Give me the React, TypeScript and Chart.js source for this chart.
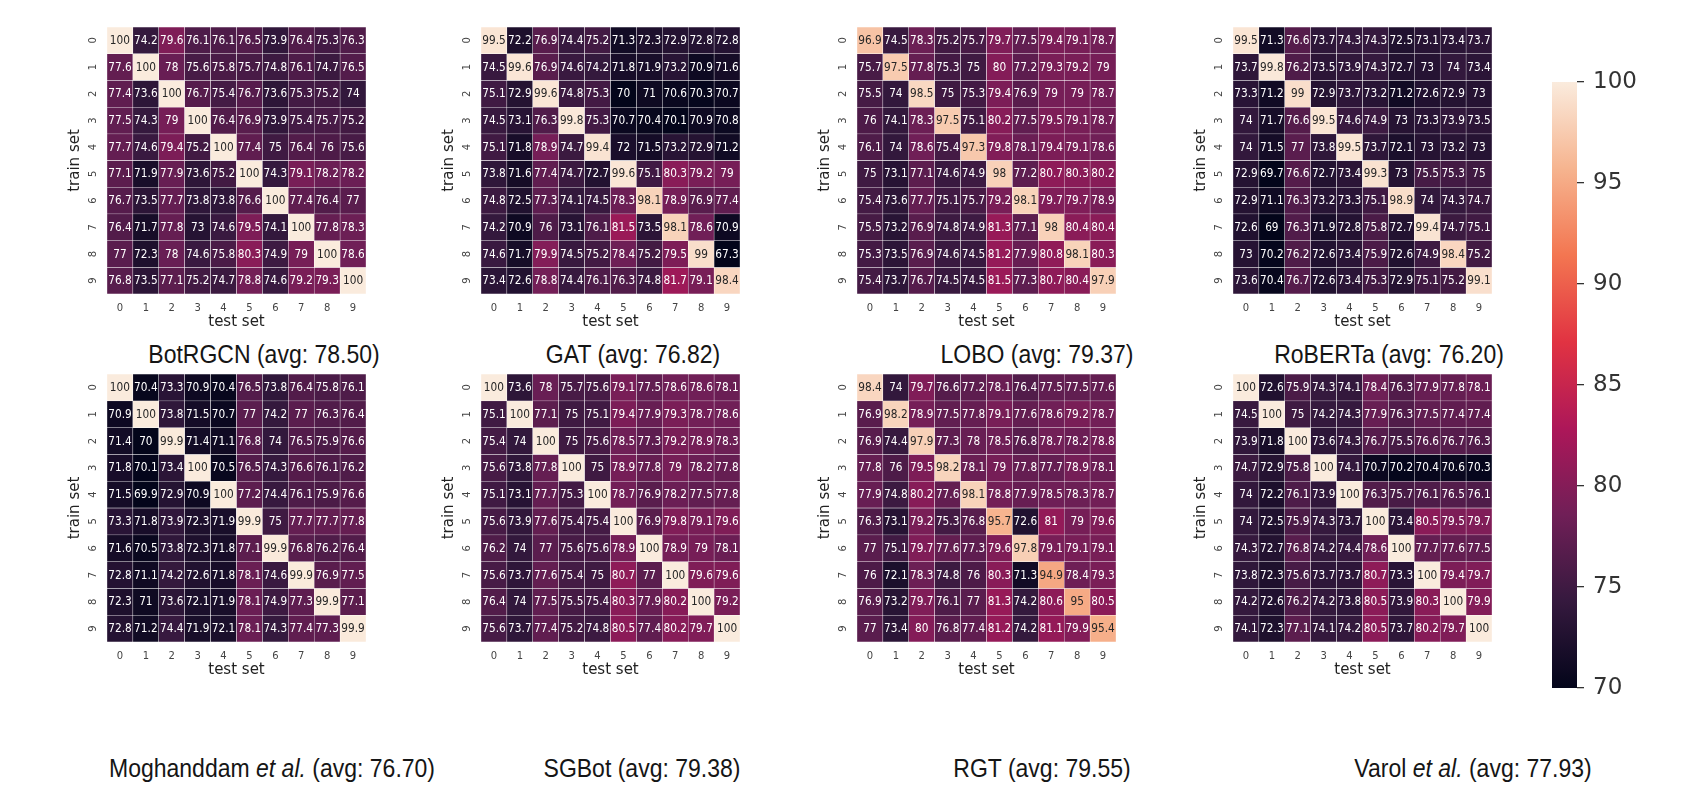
import React, { useEffect, useRef } from 'react';
import { Chart, registerables } from 'chart.js';

Chart.register(...registerables);
Chart.defaults.font.family = '"DejaVu Sans", sans-serif';

// ---------------- data ----------------
const testSetLabels = ['0', '1', '2', '3', '4', '5', '6', '7', '8', '9'];
const trainSetLabels = ['0', '1', '2', '3', '4', '5', '6', '7', '8', '9'];
const colorbarTicks = [70, 75, 80, 85, 90, 95, 100];

const modelNames = ['BotRGCN', 'GAT', 'LOBO', 'RoBERTa', 'Moghanddam', 'SGBot', 'RGT', 'Varol'];
const modelItalic = ['', '', '', '', 'et al.', '', '', 'et al.'];
const modelAvgs = ['78.50', '76.82', '79.37', '76.20', '76.70', '79.38', '79.55', '77.93'];

const botrgcnAcc = [
  [100, 74.2, 79.6, 76.1, 76.1, 76.5, 73.9, 76.4, 75.3, 76.3],
  [77.6, 100, 78, 75.6, 75.8, 75.7, 74.8, 76.1, 74.7, 76.5],
  [77.4, 73.6, 100, 76.7, 75.4, 76.7, 73.6, 75.3, 75.2, 74],
  [77.5, 74.3, 79, 100, 76.4, 76.9, 73.9, 75.4, 75.7, 75.2],
  [77.7, 74.6, 79.4, 75.2, 100, 77.4, 75, 76.4, 76, 75.6],
  [77.1, 71.9, 77.9, 73.6, 75.2, 100, 74.3, 79.1, 78.2, 78.2],
  [76.7, 73.5, 77.7, 73.8, 73.8, 76.6, 100, 77.4, 76.4, 77],
  [76.4, 71.7, 77.8, 73, 74.6, 79.5, 74.1, 100, 77.8, 78.3],
  [77, 72.3, 78, 74.6, 75.8, 80.3, 74.9, 79, 100, 78.6],
  [76.8, 73.5, 77.1, 75.2, 74.7, 78.8, 74.6, 79.2, 79.3, 100],
];

const gatAcc = [
  [99.5, 72.2, 76.9, 74.4, 75.2, 71.3, 72.3, 72.9, 72.8, 72.8],
  [74.5, 99.6, 76.9, 74.6, 74.2, 71.8, 71.9, 73.2, 70.9, 71.6],
  [75.1, 72.9, 99.6, 74.8, 75.3, 70, 71, 70.6, 70.3, 70.7],
  [74.5, 73.1, 76.3, 99.8, 75.3, 70.7, 70.4, 70.1, 70.9, 70.8],
  [75.1, 71.8, 78.9, 74.7, 99.4, 72, 71.5, 73.2, 72.9, 71.2],
  [73.8, 71.6, 77.4, 74.7, 72.7, 99.6, 75.1, 80.3, 79.2, 79],
  [74.8, 72.5, 77.3, 74.1, 74.5, 78.3, 98.1, 78.9, 76.9, 77.4],
  [74.2, 70.9, 76, 73.1, 76.1, 81.5, 73.5, 98.1, 78.6, 70.9],
  [74.6, 71.7, 79.9, 74.5, 75.2, 78.4, 75.2, 79.5, 99, 67.3],
  [73.4, 72.6, 78.8, 74.4, 76.1, 76.3, 74.8, 81.7, 79.1, 98.4],
];

const loboAcc = [
  [96.9, 74.5, 78.3, 75.2, 75.7, 79.7, 77.5, 79.4, 79.1, 78.7],
  [75.7, 97.5, 77.8, 75.3, 75, 80, 77.2, 79.3, 79.2, 79],
  [75.5, 74, 98.5, 75, 75.3, 79.4, 76.9, 79, 79, 78.7],
  [76, 74.1, 78.3, 97.5, 75.1, 80.2, 77.5, 79.5, 79.1, 78.7],
  [76.1, 74, 78.6, 75.4, 97.3, 79.8, 78.1, 79.4, 79.1, 78.6],
  [75, 73.1, 77.1, 74.6, 74.9, 98, 77.2, 80.7, 80.3, 80.2],
  [75.4, 73.6, 77.7, 75.1, 75.7, 79.2, 98.1, 79.7, 79.7, 78.9],
  [75.5, 73.2, 76.9, 74.8, 74.9, 81.3, 77.1, 98, 80.4, 80.4],
  [75.3, 73.5, 76.9, 74.6, 74.5, 81.2, 77.9, 80.8, 98.1, 80.3],
  [75.4, 73.7, 76.7, 74.5, 74.5, 81.5, 77.3, 80.7, 80.4, 97.9],
];

const robertaAcc = [
  [99.5, 71.3, 76.6, 73.7, 74.3, 74.3, 72.5, 73.1, 73.4, 73.7],
  [73.7, 99.8, 76.2, 73.5, 73.9, 74.3, 72.7, 73, 74, 73.4],
  [73.3, 71.2, 99, 72.9, 73.7, 73.2, 71.2, 72.6, 72.9, 73],
  [74, 71.7, 76.6, 99.5, 74.6, 74.9, 73, 73.3, 73.9, 73.5],
  [74, 71.5, 77, 73.8, 99.5, 73.7, 72.1, 73, 73.2, 73],
  [72.9, 69.7, 76.6, 72.7, 73.4, 99.3, 73, 75.5, 75.3, 75],
  [72.9, 71.1, 76.3, 73.2, 73.3, 75.1, 98.9, 74, 74.3, 74.7],
  [72.6, 69, 76.3, 71.9, 72.8, 75.8, 72.7, 99.4, 74.7, 75.1],
  [73, 70.2, 76.2, 72.6, 73.4, 75.9, 72.6, 74.9, 98.4, 75.2],
  [73.6, 70.4, 76.7, 72.6, 73.4, 75.3, 72.9, 75.1, 75.2, 99.1],
];

const moghanddamAcc = [
  [100, 70.4, 73.3, 70.9, 70.4, 76.5, 73.8, 76.4, 75.8, 76.1],
  [70.9, 100, 73.8, 71.5, 70.7, 77, 74.2, 77, 76.3, 76.4],
  [71.4, 70, 99.9, 71.4, 71.1, 76.8, 74, 76.5, 75.9, 76.6],
  [71.8, 70.1, 73.4, 100, 70.5, 76.5, 74.3, 76.6, 76.1, 76.2],
  [71.5, 69.9, 72.9, 70.9, 100, 77.2, 74.4, 76.1, 75.9, 76.6],
  [73.3, 71.8, 73.9, 72.3, 71.9, 99.9, 75, 77.7, 77.7, 77.8],
  [71.6, 70.5, 73.8, 72.3, 71.8, 77.1, 99.9, 76.8, 76.2, 76.4],
  [72.8, 71.1, 74.2, 72.6, 71.8, 78.1, 74.6, 99.9, 76.9, 77.5],
  [72.3, 71, 73.6, 72.1, 71.9, 78.1, 74.9, 77.3, 99.9, 77.1],
  [72.8, 71.2, 74.4, 71.9, 72.1, 78.1, 74.3, 77.4, 77.3, 99.9],
];

const sgbotAcc = [
  [100, 73.6, 78, 75.7, 75.6, 79.1, 77.5, 78.6, 78.6, 78.1],
  [75.1, 100, 77.1, 75, 75.1, 79.4, 77.9, 79.3, 78.7, 78.6],
  [75.4, 74, 100, 75, 75.6, 78.5, 77.3, 79.2, 78.9, 78.3],
  [75.6, 73.8, 77.8, 100, 75, 78.9, 77.8, 79, 78.2, 77.8],
  [75.1, 73.1, 77.7, 75.3, 100, 78.7, 76.9, 78.2, 77.5, 77.8],
  [75.6, 73.9, 77.6, 75.4, 75.4, 100, 76.9, 79.8, 79.1, 79.6],
  [76.2, 74, 77, 75.6, 75.6, 78.9, 100, 78.9, 79, 78.1],
  [75.6, 73.7, 77.6, 75.4, 75, 80.7, 77, 100, 79.6, 79.6],
  [76.4, 74, 77.5, 75.5, 75.4, 80.3, 77.9, 80.2, 100, 79.2],
  [75.6, 73.7, 77.4, 75.2, 74.8, 80.5, 77.4, 80.2, 79.7, 100],
];

const rgtAcc = [
  [98.4, 74, 79.7, 76.6, 77.2, 78.1, 76.4, 77.5, 77.5, 77.6],
  [76.9, 98.2, 78.9, 77.5, 77.8, 79.1, 77.6, 78.6, 79.2, 78.7],
  [76.9, 74.4, 97.9, 77.3, 78, 78.5, 76.8, 78.7, 78.2, 78.8],
  [77.8, 76, 79.5, 98.2, 78.1, 79, 77.8, 77.7, 78.9, 78.1],
  [77.9, 74.8, 80.2, 77.6, 98.1, 78.8, 77.9, 78.5, 78.3, 78.7],
  [76.3, 73.1, 79.2, 75.3, 76.8, 95.7, 72.6, 81, 79, 79.6],
  [77, 75.1, 79.7, 77.6, 77.3, 79.6, 97.8, 79.1, 79.1, 79.1],
  [76, 72.1, 78.3, 74.8, 76, 80.3, 71.3, 94.9, 78.4, 79.3],
  [76.9, 73.2, 79.7, 76.1, 77, 81.3, 74.2, 80.6, 95, 80.5],
  [77, 73.4, 80, 76.8, 77.4, 81.2, 74.2, 81.1, 79.9, 95.4],
];

const varolAcc = [
  [100, 72.6, 75.9, 74.3, 74.1, 78.4, 76.3, 77.9, 77.8, 78.1],
  [74.5, 100, 75, 74.2, 74.3, 77.9, 76.3, 77.5, 77.4, 77.4],
  [73.9, 71.8, 100, 73.6, 74.3, 76.7, 75.5, 76.6, 76.7, 76.3],
  [74.7, 72.9, 75.8, 100, 74.1, 70.7, 70.2, 70.4, 70.6, 70.3],
  [74, 72.2, 76.1, 73.9, 100, 76.3, 75.7, 76.1, 76.5, 76.1],
  [74, 72.5, 75.9, 74.3, 73.7, 100, 73.4, 80.5, 79.5, 79.7],
  [74.3, 72.7, 76.8, 74.2, 74.4, 78.6, 100, 77.7, 77.6, 77.5],
  [73.8, 72.3, 75.6, 73.7, 73.7, 80.7, 73.3, 100, 79.4, 79.7],
  [74.2, 72.6, 76.2, 74.2, 73.8, 80.5, 73.9, 80.3, 100, 79.9],
  [74.1, 72.3, 77.1, 74.1, 74.2, 80.5, 73.7, 80.2, 79.7, 100],
];

const allMatrices = [botrgcnAcc, gatAcc, loboAcc, robertaAcc, moghanddamAcc, sgbotAcc, rgtAcc, varolAcc];

// ---------------- layout / style ----------------
const HEAT_LEFTS = [107, 481, 857, 1233];
const HEAT_TOPS = [27, 374];
const HEAT_W = 259;
const HEAT_HS = [267, 268];
const TITLE_X = [264, 633, 1037, 1389, 272, 642, 1042, 1473];
const TITLE_Y = [354, 768];

const Y_AXIS_W = 52;
const X_AXIS_H = 42;
const PAD_T = 3;
const PAD_R = 4;

const VMIN = 70;
const VMAX = 100;
const ROCKET: [number, number[]][] = [
  [0, [3, 5, 26]],
  [1 / 7, [53, 25, 62]],
  [2 / 7, [112, 31, 87]],
  [3 / 7, [173, 23, 89]],
  [4 / 7, [225, 51, 66]],
  [5 / 7, [243, 118, 81]],
  [6 / 7, [246, 180, 143]],
  [1, [250, 235, 221]],
];

function rocketRGB(v: number): number[] {
  const t = Math.min(1, Math.max(0, (v - VMIN) / (VMAX - VMIN)));
  for (let i = 0; i < ROCKET.length - 1; i++) {
    const [t0, c0] = ROCKET[i];
    const [t1, c1] = ROCKET[i + 1];
    if (t <= t1) {
      const f = (t - t0) / (t1 - t0);
      return [0, 1, 2].map((k) => Math.round(c0[k] + (c1[k] - c0[k]) * f));
    }
  }
  return ROCKET[ROCKET.length - 1][1];
}
const rgbStr = (c: number[]) => `rgb(${c[0]},${c[1]},${c[2]})`;
function annotColor(v: number): string {
  const lin = (x: number) => {
    const c = x / 255;
    return c <= 0.03928 ? c / 12.92 : Math.pow((c + 0.055) / 1.055, 2.4);
  };
  const [r, g, b] = rocketRGB(v);
  const lum = 0.2126 * lin(r) + 0.7152 * lin(g) + 0.0722 * lin(b);
  return lum > 0.408 ? '#262626' : '#ffffff';
}

const zeroPad = (s: any) => {
  s.paddingTop = 0;
  s.paddingBottom = 0;
  s.paddingLeft = 0;
  s.paddingRight = 0;
};

function Heatmap({ matrix, left, top, height }: { matrix: number[][]; left: number; top: number; height: number }) {
  const ref = useRef<HTMLCanvasElement>(null);
  const cw = Y_AXIS_W + HEAT_W + PAD_R;
  const ch = PAD_T + height + X_AXIS_H;
  useEffect(() => {
    const annotPlugin = {
      id: 'annot',
      afterDatasetsDraw(chart: any) {
        const ctx = chart.ctx;
        chart.data.datasets.forEach((_: any, r: number) => {
          const meta = chart.getDatasetMeta(r);
          meta.data.forEach((el: any, c: number) => {
            const v = matrix[r][c];
            const p = el.getProps(['x', 'y', 'base'], true);
            ctx.save();
            ctx.translate(p.x, (p.y + p.base) / 2 + 0.5);
            ctx.scale(0.88, 1);
            ctx.fillStyle = annotColor(v);
            ctx.font = '12px "DejaVu Sans"';
            ctx.textAlign = 'center';
            ctx.textBaseline = 'middle';
            ctx.fillText(String(v), 0, 0);
            ctx.restore();
          });
        });
      },
    };
    const datasets = trainSetLabels.map((_, r) => ({
      data: testSetLabels.map(() => [r, r + 1]),
      backgroundColor: matrix[r].map((v) => rgbStr(rocketRGB(v))),
      borderColor: 'rgba(255,255,255,0.9)',
      borderWidth: 0.5,
      borderSkipped: false,
      barPercentage: 1,
      categoryPercentage: 1,
      grouped: false,
    }));
    let chart: any = null;
    try {
      chart = new Chart(ref.current as HTMLCanvasElement, {
        type: 'bar',
        data: { labels: testSetLabels, datasets: datasets as any },
        options: {
          responsive: false,
          animation: false,
          events: [],
          layout: { padding: { top: PAD_T, right: PAD_R, left: 0, bottom: 0 } },
          plugins: { legend: { display: false }, tooltip: { enabled: false } },
          scales: {
            x: {
              type: 'category',
              grid: { display: false, drawTicks: false },
              border: { display: false },
              ticks: { color: '#444', font: { size: 10 }, padding: 8, maxRotation: 0, minRotation: 0 },
              title: { display: true, text: 'test set', color: '#222', font: { size: 15 }, padding: { top: 0, bottom: 5 } },
              afterFit: (s: any) => {
                s.height = X_AXIS_H;
                zeroPad(s);
              },
            },
            y: {
              type: 'linear',
              min: 0,
              max: 10,
              reverse: true,
              grid: { display: false, drawTicks: false },
              border: { display: false },
              afterBuildTicks: (s: any) => {
                s.ticks = trainSetLabels.map((_, i) => ({ value: i + 0.5 }));
              },
              ticks: {
                color: '#444',
                font: { size: 10 },
                padding: 10,
                minRotation: 90,
                maxRotation: 90,
                crossAlign: 'center',
                callback: (v: any) => trainSetLabels[Math.floor(Number(v))],
              },
              title: { display: true, text: 'train set', color: '#222', font: { size: 15 }, padding: { top: 11, bottom: 0 } },
              afterFit: (s: any) => {
                s.width = Y_AXIS_W;
                zeroPad(s);
              },
            },
          },
        } as any,
        plugins: [annotPlugin],
      });
    } catch (e) {
      console.error(e);
    }
    return () => {
      if (chart) chart.destroy();
    };
  }, [matrix, height]);
  return (
    <canvas
      ref={ref}
      width={cw}
      height={ch}
      style={{ position: 'absolute', left: left - Y_AXIS_W, top: top - PAD_T, width: cw, height: ch }}
    />
  );
}

function Colorbar() {
  const ref = useRef<HTMLCanvasElement>(null);
  const cw = 160;
  const ch = 670;
  const barW = 25;
  useEffect(() => {
    let chart: any = null;
    try {
      chart = new Chart(ref.current as HTMLCanvasElement, {
        type: 'bar',
        data: {
          labels: ['scale'],
          datasets: [
            {
              data: [[VMIN, VMAX]],
              backgroundColor: (c: any) => {
                const chartRef = c.chart;
                const area = chartRef.chartArea;
                const ys = chartRef.scales && chartRef.scales.y;
                if (!area || !ys) return '#555';
                const y0 = ys.getPixelForValue(VMIN);
                const y1 = ys.getPixelForValue(VMAX);
                if (!isFinite(y0) || !isFinite(y1)) return '#555';
                const g = chartRef.ctx.createLinearGradient(0, y0, 0, y1);
                ROCKET.forEach(([t, col]) => g.addColorStop(t, rgbStr(col)));
                return g;
              },
              borderWidth: 0,
              barPercentage: 1,
              categoryPercentage: 1,
            },
          ] as any,
        },
        options: {
          responsive: false,
          animation: false,
          events: [],
          layout: { padding: { top: 32, bottom: 32, left: 12, right: 0 } },
          plugins: { legend: { display: false }, tooltip: { enabled: false } },
          scales: {
            x: { display: false },
            y: {
              position: 'right',
              min: VMIN,
              max: VMAX,
              afterBuildTicks: (s: any) => {
                s.ticks = colorbarTicks.map((v) => ({ value: v }));
              },
              grid: { display: true, drawOnChartArea: false, drawTicks: true, tickLength: 7, color: '#333', lineWidth: 1.3 },
              border: { display: false },
              ticks: { color: '#333', font: { size: 23 }, padding: 9 },
              afterFit: (s: any) => {
                s.width = cw - 12 - barW;
                zeroPad(s);
              },
            },
          },
        } as any,
      });
    } catch (e) {
      console.error(e);
    }
    return () => {
      if (chart) chart.destroy();
    };
  }, []);
  return (
    <canvas
      ref={ref}
      width={cw}
      height={ch}
      style={{ position: 'absolute', left: 1540, top: 50, width: cw, height: ch }}
    />
  );
}

export default function App() {
  return (
    <div
      style={{
        position: 'absolute',
        left: 0,
        top: 0,
        width: 1708,
        height: 812,
        background: '#fff',
        overflow: 'hidden',
      }}
    >
      {allMatrices.map((m, i) => (
        <Heatmap
          key={i}
          matrix={m}
          left={HEAT_LEFTS[i % 4]}
          top={HEAT_TOPS[Math.floor(i / 4)]}
          height={HEAT_HS[Math.floor(i / 4)]}
        />
      ))}
      <Colorbar />
      {modelNames.map((name, i) => (
        <div
          key={'t' + i}
          style={{
            position: 'absolute',
            left: TITLE_X[i],
            top: TITLE_Y[Math.floor(i / 4)],
            transform: 'translate(-50%, -50%) scaleX(0.92)',
            whiteSpace: 'nowrap',
            fontFamily: '"Liberation Sans", Arial, sans-serif',
            fontSize: 25,
            color: '#151515',
            lineHeight: 1,
          }}
        >
          {name}
          {modelItalic[i] ? (
            <>
              {' '}
              <i>{modelItalic[i]}</i>
            </>
          ) : null}
          {` (avg: ${modelAvgs[i]})`}
        </div>
      ))}
    </div>
  );
}
